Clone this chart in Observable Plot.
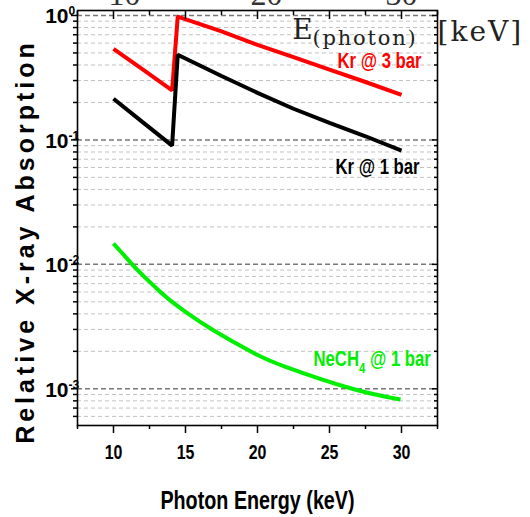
<!DOCTYPE html>
<html>
<head>
<meta charset="utf-8">
<script src="https://cdn.jsdelivr.net/npm/d3@7"></script>
<script src="https://cdn.jsdelivr.net/npm/@observablehq/plot@0.6"></script>
<style>
  html, body { margin: 0; padding: 0; background: white; }
</style>
</head>
<body>
<div id="chart"></div>
<script>
// ---- data ----
const kr3Energy = [10, 12, 14.07, 14.46, 17.5, 20, 22.5, 25, 27.5, 30];
const kr3Abs    = [0.54, 0.37, 0.25, 0.98, 0.744, 0.58, 0.462, 0.367, 0.292, 0.23];

const kr1Energy = [10, 12, 14.07, 14.46, 17.5, 20, 22.5, 25, 27.5, 30];
const kr1Abs    = [0.214, 0.1395, 0.090, 0.483, 0.326, 0.239, 0.178, 0.137, 0.107, 0.082];

const neEnergy = [10, 11.3, 12.11, 13.26, 14.07, 15.2, 16.85, 19.51, 21.95, 26.58, 29.93];
const neAbs    = [0.0147, 0.010, 0.008, 0.006, 0.005, 0.004, 0.003, 0.002, 0.0015, 0.001, 0.00082];

const seriesNames  = ["Kr @ 3 bar", "Kr @ 1 bar", "NeCH4 @ 1 bar"];
const seriesColors = ["#ff0000", "#000000", "#00ee00"];
const labelEnergy  = [25.56, 25.42, 23.89];
const labelAbs     = [0.375, 0.0528, 0.00152];

const xMajorTicks = [10, 15, 20, 25, 30];
const xMinorTicks = [7.5, 12.5, 17.5, 22.5, 27.5, 32.5];
const yMajorTicks = [1, 0.1, 0.01, 0.001];
const yExponents  = ["0", "-1", "-2", "-3"];
const yMinorTicks = [];
for (const d of [0.1, 0.01, 0.001, 0.0001]) for (let k = 2; k <= 9; k++) { const v = +(k * d).toPrecision(3); if (v >= 5.1e-4 && v < 1) yMinorTicks.push(v); }

const topOverlayNums = ["10", "20", "30"];
const topOverlayEnergy = [10.76, 20.62, 30.0];

const xTitle = "Photon Energy (keV)";
const yTitle = "Relative X-ray Absorption";

// ---- table for the library ----
const rows = [];
[[kr3Energy, kr3Abs], [kr1Energy, kr1Abs], [neEnergy, neAbs]].forEach(([xs, ys], i) => {
  xs.forEach((e, j) => rows.push({series: seriesNames[i], energy: e, abs: ys[j]}));
});
const labels = seriesNames.map((s, i) => ({text: s, energy: labelEnergy[i], abs: labelAbs[i], color: seriesColors[i]}));

const narrow = "'Liberation Sans', Arial, Helvetica, sans-serif"; // condensed below
const arial = "'Liberation Sans', Arial, sans-serif";
const serif = "'DejaVu Serif', serif";

const plot = Plot.plot({
  width: 530,
  height: 517,
  marginLeft: 77,
  marginRight: 93,
  marginTop: 10,
  marginBottom: 92,
  style: {background: "white", fontFamily: arial, overflow: "visible"},
  x: {domain: [7.5, 32.5]},
  y: {type: "log", domain: [5.07e-4, 1.0965]},
  color: {domain: seriesNames, range: seriesColors},
  marks: [
    Plot.ruleY(yMinorTicks, {y: d => d, stroke: "#c2c2c2", strokeDasharray: "4,3", strokeWidth: 1}),
    Plot.ruleY(yMajorTicks, {y: d => d, stroke: "#777777", strokeDasharray: "5,3", strokeWidth: 1.5}),
    Plot.line(rows.filter(d => d.series !== "NeCH4 @ 1 bar"), {x: "energy", y: "abs", z: "series", stroke: "series", strokeWidth: 4, strokeLinejoin: "miter", strokeLinecap: "butt"}),
    Plot.line(rows.filter(d => d.series === "NeCH4 @ 1 bar"), {x: "energy", y: "abs", stroke: "series", strokeWidth: 4, curve: "natural", strokeLinecap: "butt"}),
    Plot.frame({stroke: "black", strokeWidth: 1.6}),
    // ticks
    Plot.axisX(xMajorTicks, {anchor: "bottom", tickSize: 8, fill: "none", label: null, strokeWidth: 1.5}),
    Plot.axisX(xMinorTicks, {anchor: "bottom", tickSize: 4, fill: "none", label: null, strokeWidth: 1.5}),
    Plot.axisX(xMajorTicks, {anchor: "top", tickSize: -8, fill: "none", label: null, strokeWidth: 1.5}),
    Plot.axisX(xMinorTicks, {anchor: "top", tickSize: -4, fill: "none", label: null, strokeWidth: 1.5}),
    Plot.axisY(yMajorTicks, {anchor: "left", tickSize: 6, fill: "none", label: null, strokeWidth: 1.5}),
    Plot.axisY(yMinorTicks, {anchor: "left", tickSize: 4, fill: "none", label: null, strokeWidth: 1.5}),
    Plot.axisY(yMajorTicks, {anchor: "right", tickSize: -6, fill: "none", label: null, strokeWidth: 1.5}),
    Plot.axisY(yMinorTicks, {anchor: "right", tickSize: -4, fill: "none", label: null, strokeWidth: 1.5}),
    // tick labels
    Plot.text(xMajorTicks, {x: d => d, frameAnchor: "bottom", dy: 33, textAnchor: "middle", lineAnchor: "bottom", text: d => String(d), fontSize: 21, fontWeight: "bold", fontFamily: narrow, fill: "black"}),
    Plot.text(yMajorTicks, {y: d => d, frameAnchor: "left", dx: -9, dy: 8, textAnchor: "end", lineAnchor: "bottom", text: () => "10", fontSize: 21, fontWeight: "bold", fontFamily: arial, fill: "black"}),
    Plot.text(yMajorTicks, {y: d => d, frameAnchor: "left", dx: -9, dy: 0, textAnchor: "start", lineAnchor: "bottom", text: (d, i) => yExponents[i], fontSize: 12, fontWeight: "bold", fontFamily: arial, fill: "black"}),
    // titles
    Plot.text([xTitle], {frameAnchor: "bottom", dy: 83, textAnchor: "middle", lineAnchor: "bottom", text: d => d, fontSize: 26, fontWeight: "bold", fontFamily: narrow, fill: "black"}),
    Plot.text([yTitle], {frameAnchor: "left", dx: -44, dy: 23.5, rotate: -90, textAnchor: "middle", lineAnchor: "bottom", text: d => d, fontSize: 25, fontWeight: "bold", fontFamily: arial, fill: "black"}),
    // series labels
    Plot.text(labels, {x: "energy", y: "abs", text: "text", fill: "color", textAnchor: "start", lineAnchor: "bottom", fontSize: 22, fontWeight: "bold", fontFamily: narrow}),
    // overlaid inset text
    Plot.text(topOverlayNums, {x: (d, i) => topOverlayEnergy[i], frameAnchor: "top", dy: -6, textAnchor: "middle", lineAnchor: "bottom", text: d => d, fontSize: 32, fontFamily: "'Liberation Serif', serif", fill: "#333"}),
    Plot.text(["E"], {frameAnchor: "top-left", dx: 214.7, dy: 28.3, textAnchor: "start", lineAnchor: "bottom", text: d => d, fontSize: 28, fontFamily: serif, fill: "#222"}),
    Plot.text(["(photon)"], {frameAnchor: "top-left", dx: 235, dy: 34, textAnchor: "start", lineAnchor: "bottom", text: d => d, fontSize: 21, fontFamily: serif, fill: "#222"}),
    Plot.text(["[keV]"], {frameAnchor: "top-left", dx: 360, dy: 30, textAnchor: "start", lineAnchor: "bottom", text: d => d, fontSize: 28, fontFamily: serif, fill: "#222"})
  ]
});

document.getElementById("chart").appendChild(plot);

// condensed bold face: squeeze the "narrow" text horizontally about its anchor
const svg = d3.select(plot);
svg.selectAll("g").filter(function() { return this.getAttribute("font-family") === narrow; })
  .selectAll("text").each(function() {
    const tr = this.getAttribute("transform");
    if (tr && tr.includes("translate")) {
      this.setAttribute("transform", tr + " scale(0.76,1)");
    } else {
      const x = +(this.getAttribute("x") || 0);
      this.setAttribute("transform", `translate(${x},0) scale(0.76,1) translate(${-x},0)`);
    }
  });

// fine typography
svg.selectAll("text").each(function() {
  const t = this.textContent;
  const sel = d3.select(this);
  if (t === yTitle) sel.attr("letter-spacing", "4px");
  else if (t === "(photon)") sel.attr("letter-spacing", "1.8px");
  else if (t === "[keV]") sel.attr("letter-spacing", "2px");
  else if (t === "NeCH4 @ 1 bar") {
    sel.text(null);
    sel.append("tspan").text("NeCH");
    sel.append("tspan").attr("font-size", 15).attr("dy", 7).text("4");
    sel.append("tspan").attr("dy", -7).text(" @ 1 bar");
  }
});
</script>
</body>
</html>
